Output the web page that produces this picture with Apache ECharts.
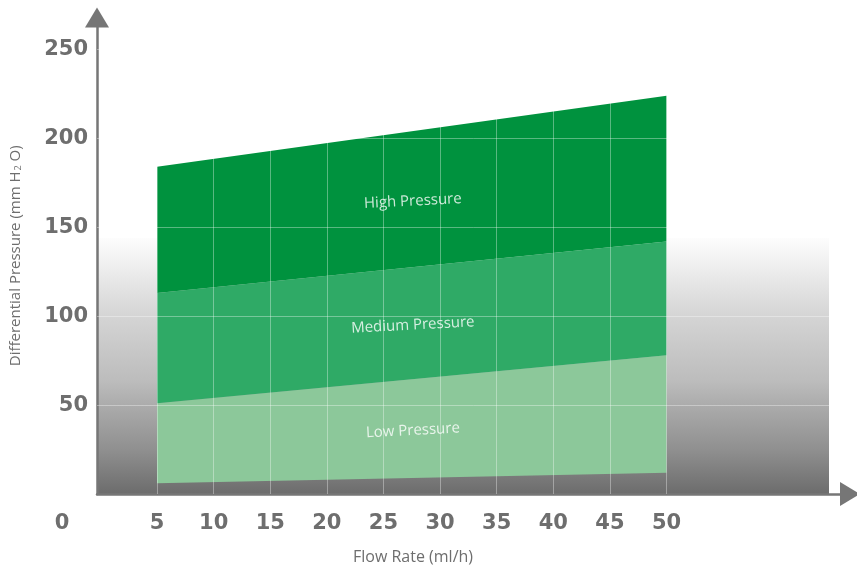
<!DOCTYPE html>
<html>
<head>
<meta charset="utf-8">
<script src="https://cdn.jsdelivr.net/npm/echarts@6/dist/echarts.min.js"></script>
<style>
  html, body { margin: 0; padding: 0; background: #ffffff; }
  #chart { width: 857px; height: 570px; }
</style>
</head>
<body>
<div id="chart"></div>
<script>
// Flow rate range covered by the operating bands (ml/h)
const flowRates = [5, 50];

// Band boundaries in mm H2O at each flow rate
const bottomEdge = [6, 12];
const lowTop = [51, 78];
const mediumTop = [113, 142];
const highTop = [184, 224];

const bandNames = ['Low Pressure', 'Medium Pressure', 'High Pressure'];
const bandColors = ['#8cc89a', '#2faa66', '#00923e'];

// Axis tick labels
const xTicks = [5, 10, 15, 20, 25, 30, 35, 40, 45, 50];
const yTicks = [50, 100, 150, 200, 250];
const originLabel = '0';

const edges = [bottomEdge, lowTop, mediumTop, highTop];

const tickColor = '#6e6e6e';
const axisColor = '#767676';
const gridLineColor = 'rgba(255,255,255,0.35)';

// One filled polygon per band, between its lower and upper boundary
const series = bandNames.map((name, b) => ({
  type: 'custom',
  name: name,
  silent: true,
  z: 2,
  data: [0],
  renderItem: function (params, api) {
    const lower = edges[b];
    const upper = edges[b + 1];
    const pts = [];
    for (let i = 0; i < flowRates.length; i++) {
      pts.push(api.coord([flowRates[i], upper[i]]));
    }
    for (let i = flowRates.length - 1; i >= 0; i--) {
      pts.push(api.coord([flowRates[i], lower[i]]));
    }
    return {
      type: 'polygon',
      shape: { points: pts },
      style: { fill: bandColors[b] }
    };
  }
}));

// Band captions placed at the middle of each band
const midFlow = (flowRates[0] + flowRates[flowRates.length - 1]) / 2;
function edgeAt(edge, x) {
  const t = (x - flowRates[0]) / (flowRates[1] - flowRates[0]);
  return edge[0] + (edge[1] - edge[0]) * t;
}
const captionData = bandNames.map((name, b) => ({
  name: name,
  value: [midFlow, (edgeAt(edges[b], midFlow) + edgeAt(edges[b + 1], midFlow)) / 2]
}));

series.push({
  type: 'scatter',
  data: captionData,
  symbol: 'circle',
  symbolSize: 2,
  itemStyle: { color: 'rgba(0,0,0,0)' },
  silent: true,
  z: 4,
  label: {
    show: true,
    position: 'inside',
    formatter: '{b}',
    rotate: 3,
    offset: [1, 2],
    color: '#ffffff',
    textBorderWidth: 0,
    fontFamily: 'Open Sans',
    fontWeight: 500,
    fontSize: 15
  },
  markLine: {
    silent: true,
    symbol: ['none', 'none'],
    label: { show: false },
    lineStyle: { color: gridLineColor, width: 1, type: 'solid' },
    data: xTicks.map(v => ({ xAxis: v })).concat(yTicks.map(v => ({ yAxis: v })))
  }
});

const chart = echarts.init(document.getElementById('chart'), null, { renderer: 'canvas' });

chart.setOption({
  animation: false,
  backgroundColor: '#ffffff',
  grid: { left: 97, right: 7, top: 17.5, bottom: 76 },
  xAxis: {
    type: 'value',
    min: -0.3,
    max: 66.2,
    axisLine: {
      show: true,
      onZero: false,
      symbol: ['none', 'triangle'],
      symbolSize: [24, 20],
      lineStyle: { color: axisColor, width: 2.5 }
    },
    axisTick: { show: false },
    splitLine: { show: false },
    axisLabel: {
      customValues: xTicks,
      margin: 19,
      color: tickColor,
      fontFamily: 'DejaVu Sans',
      fontWeight: 'bold',
      fontSize: 21
    }
  },
  yAxis: {
    type: 'value',
    min: 0,
    max: 268,
    axisLine: {
      show: true,
      onZero: false,
      symbol: ['none', 'triangle'],
      symbolSize: [24, 20],
      lineStyle: { color: axisColor, width: 2.5 }
    },
    axisTick: { show: false },
    splitLine: { show: false },
    axisLabel: {
      customValues: yTicks,
      margin: 9,
      color: tickColor,
      fontFamily: 'DejaVu Sans',
      fontWeight: 'bold',
      fontSize: 21
    },
    name: 'Differential Pressure (mm H{sub|2} O)',
    nameLocation: 'middle',
    nameRotate: 90,
    nameGap: 74,
    nameTextStyle: {
      color: tickColor,
      fontFamily: 'Open Sans',
      fontSize: 15,
      rich: {
        sub: {
          color: tickColor,
          fontFamily: 'Open Sans',
          fontSize: 9,
          verticalAlign: 'bottom',
          padding: [6, 0, 0, 1]
        }
      }
    }
  },
  graphic: [
    {
      // shaded backdrop behind the lower part of the plot
      type: 'rect',
      z: -1,
      shape: { x: 98, y: 238, width: 731, height: 256 },
      style: {
        fill: {
          type: 'linear', x: 0, y: 0, x2: 0, y2: 1,
          colorStops: [
            { offset: 0, color: '#fdfdfd' },
            { offset: 0.31, color: '#d4d4d4' },
            { offset: 0.56, color: '#bcbcbc' },
            { offset: 0.65, color: '#acacac' },
            { offset: 0.83, color: '#8f8f8f' },
            { offset: 1, color: '#6c6c6c' }
          ]
        }
      },
      silent: true
    },
    {
      type: 'text',
      x: 62,
      y: 524,
      style: {
        text: originLabel,
        align: 'center',
        verticalAlign: 'middle',
        fill: tickColor,
        fontFamily: 'DejaVu Sans',
        fontWeight: 'bold',
        fontSize: 21
      }
    },
    {
      type: 'text',
      x: 413,
      y: 557,
      style: {
        text: 'Flow Rate (ml/h)',
        align: 'center',
        verticalAlign: 'middle',
        fill: tickColor,
        fontFamily: 'Open Sans',
        fontSize: 16
      }
    }
  ],
  series: series
});
</script>
</body>
</html>
